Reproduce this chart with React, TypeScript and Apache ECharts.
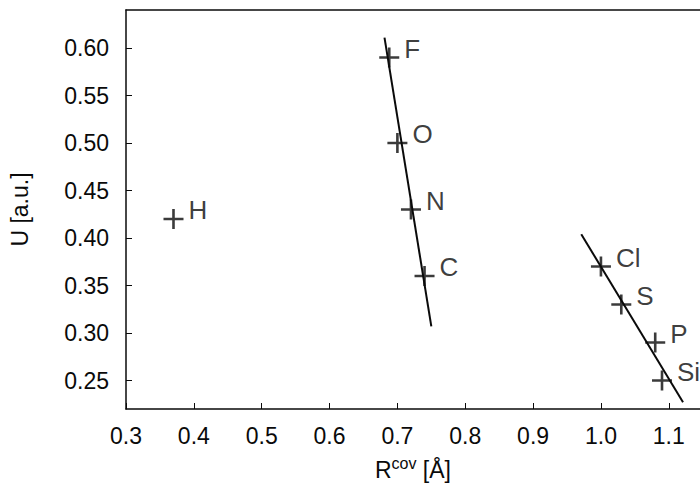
import React, { useEffect, useRef } from "react";
import * as echarts from "echarts";

const elements = ["H", "F", "O", "N", "C", "Cl", "S", "P", "Si"];
const rcov = [0.37, 0.688, 0.7, 0.72, 0.74, 1.0, 1.03, 1.08, 1.09];
const uVals = [0.42, 0.59, 0.5, 0.43, 0.36, 0.37, 0.33, 0.29, 0.25];
const fitRow2 = [[0.681, 0.611], [0.75, 0.307]];
const fitRow3 = [[0.971, 0.404], [1.121, 0.227]];
const xTicks = [0.3, 0.4, 0.5, 0.6, 0.7, 0.8, 0.9, 1.0, 1.1];
const yTicks = [0.25, 0.3, 0.35, 0.4, 0.45, 0.5, 0.55, 0.6];

const plus = "path://M8.7,0 H11.3 V8.7 H20 V11.3 H11.3 V20 H8.7 V11.3 H0 V8.7 H8.7 Z";
const FONT = "Liberation Sans, Arial, sans-serif";
const INK = "#0a0a0a";

export default function App() {
  const ref = useRef<HTMLDivElement>(null);
  useEffect(() => {
    const chart = echarts.init(ref.current!, null, { renderer: "svg" });
    chart.setOption({
      animation: false,
      backgroundColor: "#fff",
      grid: { left: 125, top: 10, right: 0, height: 399 },
      xAxis: [
        {
          type: "value",
          min: 0.3,
          max: 1.146,
          name: "{a|R}{b|cov}{a| [Å]}",
          nameLocation: "middle",
          nameGap: 46,
          nameTextStyle: {
            rich: {
              a: { fontSize: 23, fontFamily: FONT, color: INK },
              b: { fontSize: 16, fontFamily: FONT, color: INK, padding: [0, 0, 13, 0] },
            },
          },
          axisLine: { lineStyle: { color: INK, width: 1.5 } },
          axisTick: { inside: true, length: 6, customValues: xTicks, lineStyle: { color: INK } },
          axisLabel: {
            customValues: xTicks,
            formatter: (v: number) => v.toFixed(1),
            fontSize: 23,
            fontFamily: FONT,
            color: INK,
            margin: 15,
          },
          splitLine: { show: false },
        },
        {
          type: "value",
          position: "top",
          min: 0.3,
          max: 1.146,
          axisLine: { show: true, lineStyle: { color: INK, width: 1.5 } },
          axisTick: { show: false },
          axisLabel: { show: false },
          splitLine: { show: false },
        },
      ],
      yAxis: {
        type: "value",
        min: 0.22,
        max: 0.64,
        name: "U [a.u.]",
        nameLocation: "middle",
        nameGap: 95,
        nameTextStyle: { fontSize: 23, fontFamily: FONT, color: INK },
        axisLine: { lineStyle: { color: INK, width: 1.5 } },
        axisTick: { inside: true, length: 6, customValues: yTicks, lineStyle: { color: INK } },
        axisLabel: {
          customValues: yTicks,
          formatter: (v: number) => v.toFixed(2),
          fontSize: 23,
          fontFamily: FONT,
          color: INK,
          margin: 17,
        },
        splitLine: { show: false },
      },
      series: [
        {
          type: "line",
          data: fitRow2,
          symbol: "none",
          lineStyle: { color: INK, width: 2 },
        },
        {
          type: "line",
          data: fitRow3,
          symbol: "none",
          lineStyle: { color: INK, width: 2 },
        },
        {
          type: "scatter",
          data: rcov.map((x, i) => ({ value: [x, uVals[i]], name: elements[i] })),
          symbol: plus,
          symbolSize: 20,
          itemStyle: { color: INK },
          label: {
            show: true,
            position: "right",
            distance: 5,
            offset: [0, -9],
            formatter: (p: any) => p.name,
            fontSize: 26,
            fontFamily: FONT,
            color: INK,
          },
        },
      ],
    });
    return () => chart.dispose();
  }, []);
  return <div ref={ref} style={{ width: 700, height: 488, position: "fixed", left: 0, top: 0 }} />;
}
